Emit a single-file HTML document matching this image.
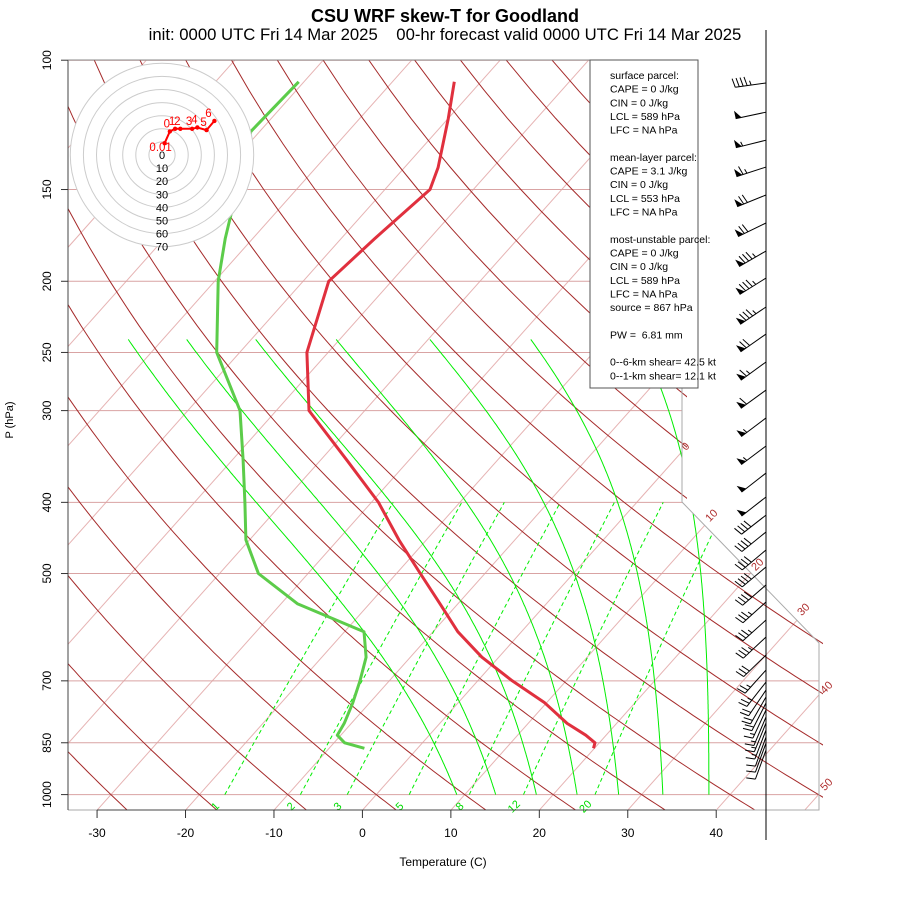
<!DOCTYPE html>
<html><head><meta charset="utf-8"><style>
html,body{margin:0;padding:0;background:#fff;}
svg{display:block;font-family:"Liberation Sans",sans-serif;}
</style></head><body>
<svg id="chart" width="900" height="900" viewBox="0 0 900 900">
<defs>
<clipPath id="plotClip"><polygon points="68,60 682,60 682,502 819,643 819,810 68,810"/></clipPath>
<clipPath id="dryClip"><polygon points="68,60 687,60 687,500 823,640 823,810 68,810"/></clipPath>
</defs>
<rect x="0" y="0" width="900" height="900" fill="#fff"/>
<text x="445" y="22" text-anchor="middle" font-size="18" font-weight="bold">CSU WRF skew-T for Goodland</text>
<text x="445" y="40" text-anchor="middle" font-size="16.7" style="white-space:pre">init: 0000 UTC Fri 14 Mar 2025    00-hr forecast valid 0000 UTC Fri 14 Mar 2025</text>
<g id="grid"></g>
<g id="series"></g>
<g id="axes"></g>
<g id="hodo"></g>
<g id="barbs"></g>
<g id="legend">
<rect x="590" y="60" width="108" height="328" fill="#fff" stroke="#555" stroke-width="1"/>
</g>
<text x="443" y="866" text-anchor="middle" font-size="12">Temperature (C)</text>
<text transform="translate(13,420) rotate(-90)" text-anchor="middle" font-size="11">P (hPa)</text>
</svg>
<script>
// ---- data ----
const tempP = [107,120,140,150,175,200,250,300,350,400,450,500,550,600,650,700,750,800,830,850,865];
const tempT = [-63.0,-60.0,-56.2,-54.9,-56.2,-57.1,-52.4,-46.3,-37.1,-29.2,-23.1,-17.3,-12.0,-7.2,-1.9,3.9,9.8,14.4,17.7,19.5,19.9];
const dewP = [107,125,175,200,250,300,350,400,450,500,550,600,650,700,750,800,830,850,865];
const dewT = [-80.6,-81.0,-73.1,-69.6,-62.6,-54.1,-48.8,-44.3,-40.4,-35.6,-28.1,-17.8,-15.0,-13.3,-11.9,-10.8,-10.4,-8.8,-6.0];
const pressureTicks = [100,150,200,250,300,400,500,700,850,1000];
const tempTicks = [-30,-20,-10,0,10,20,30,40];
const isotherms = [-100,-90,-80,-70,-60,-50,-40,-30,-20,-10,0,10,20,30,40,50];
const dryThetas = [-40,-30,-20,-10,0,10,20,30,40,50,60,70,80,90,100,110,120,130,140,150,160,170,180,190,200];
const moistT1000 = [9.1,13.5,18.1,22.7,27.4,32.4,37.6];
const moistT240 = [-73.9,-67.3,-59.5,-50.4,-39.8,-28.4,-16.1];
const mixRatios = [1,2,3,5,8,12,20];
const hodoU = [2,6,10,14,23,27,34,40];
const hodoV = [9,18,20,20,20,21,19,26];
const hodoLabels = ["0.01","0","1","2","3","4","5","6"];
const barbP = [107.4,117.7,128.5,139.8,152.6,166.6,181.9,198,216.8,236,257.6,281.3,307,335.2,364.9,393.3,416.3,438.9,464.4,489.8,518.2,546.7,578.5,610.2,645.6,676.8,702.6,720.5,736.4,750.4,767,784,798.9,816.7,834.8,850.7,869.5];
const barbDir = [262,258,256,252,248,244,240,238,236,235,234,234,233,233,232,232,232,231,230,230,229,228,228,227,226,222,218,214,210,207,205,203,202,201,200,200,200];
const barbSpd = [45,50,55,65,70,70,85,85,85,70,65,60,55,55,50,50,40,40,40,40,40,35,35,35,30,25,25,20,20,20,15,15,15,15,10,10,10];
const legendLines = ["surface parcel:","CAPE = 0 J/kg","CIN = 0 J/kg","LCL = 589 hPa","LFC = NA hPa","","mean-layer parcel:","CAPE = 3.1 J/kg","CIN = 0 J/kg","LCL = 553 hPa","LFC = NA hPa","","most-unstable parcel:","CAPE = 0 J/kg","CIN = 0 J/kg","LCL = 589 hPa","LFC = NA hPa","source = 867 hPa","","PW =  6.81 mm","","0--6-km shear= 42.5 kt","0--1-km shear= 12.1 kt"];

// ---- scales ----
const NS="http://www.w3.org/2000/svg";
function Yv(p){return 132.182-44.061*Math.log10(p);}
function ypx(p){return -1408.6+734.4*Math.log10(p);}
function xpx(T,p){return 376.3+8.845*T+14.855*Yv(p);}
function mk(tag,attrs,parent){const e=document.createElementNS(NS,tag);for(const k in attrs)e.setAttribute(k,attrs[k]);parent.appendChild(e);return e;}
function ptsStr(a){return a.map(q=>q[0].toFixed(1)+","+q[1].toFixed(1)).join(" ");}
const grid=document.getElementById('grid'), series=document.getElementById('series'), axes=document.getElementById('axes');

// isotherms
const gIso=mk('g',{'clip-path':'url(#plotClip)'},grid);
isotherms.forEach(t=>{
  const l=mk('line',{x1:xpx(t,1050),y1:ypx(1050),x2:xpx(t,100),y2:ypx(100),stroke:'#e6b3b3','stroke-width':1},gIso);
  
  
});
// pressure lines
pressureTicks.forEach(p=>{
  const l=mk('line',{x1:68,y1:ypx(p),x2:830,y2:ypx(p),stroke:'#d9a3a3','stroke-width':1,'clip-path':'url(#plotClip)'},grid);
  
  
});
// dry adiabats
const gDry=mk('g',{'clip-path':'url(#dryClip)'},grid);
dryThetas.forEach(th=>{
  const pts=[];
  for(let p=1050;p>=100;p-=10){const T=(th+273.15)*Math.pow(p/1000,0.286)-273.15;pts.push([xpx(T,p),ypx(p)]);}
  const l=mk('polyline',{points:ptsStr(pts),fill:'none',stroke:'#a52a2a','stroke-width':1},gDry);
  
  
});
// moist adiabats
function es(Tc){return 6.112*Math.exp(17.67*Tc/(Tc+243.5));}
function moistPath(t0,f){
  let T=t0+273.15, p=1000; const pts=[[t0,p]];
  while(p>240){
    const p2=p-2; const Tc=T-273.15; const e=es(Tc); const rs=f*0.622*e/Math.max(p-e,1);
    const g=(287*T+2.5e6*rs)/(1005+2.5e6*2.5e6*rs*0.622/(287*T*T));
    T+=g*Math.log(p2/p); p=p2; pts.push([T-273.15,p]);
  }
  return pts;
}
const gMoist=mk('g',{'clip-path':'url(#plotClip)'},grid);
moistT1000.forEach((t0,i)=>{
  let lo=0, hi=3;
  for(let it=0;it<30;it++){const m=(lo+hi)/2;const pts=moistPath(t0,m);const tt=pts[pts.length-1][0];if(tt>moistT240[i])hi=m;else lo=m;}
  const pts=moistPath(t0,(lo+hi)/2).map(q=>[xpx(q[0],q[1]),ypx(q[1])]);
  const l=mk('polyline',{points:ptsStr(pts),fill:'none',stroke:'#00ee00','stroke-width':1},gMoist);
  
  
});
// mixing ratio lines
mixRatios.forEach(w=>{
  const pts=[];
  for(let p=1000;p>=400;p-=20){const e=w*p/(622+w);const L=Math.log(e/6.112);const T=243.5*L/(17.67-L);pts.push([xpx(T,p),ypx(p)]);}
  const l=mk('polyline',{points:ptsStr(pts),fill:'none',stroke:'#00ee00','stroke-width':1,'stroke-dasharray':'4,3','clip-path':'url(#plotClip)'},grid);
  
  
  const x0=pts[0][0]-7;
  const tx=mk('text',{transform:`translate(${x0.toFixed(1)},809) rotate(-45)`,'font-size':11,fill:'#00dd00','text-anchor':'middle'},grid);
  tx.textContent=w;
  
  
});
// isotherm labels
[[688,449,"0"],[714,518,"10"],[760,567,"20"],[806,612,"30"],[829,690,"40"],[829,787,"50"]].forEach(a=>{
  const tx=mk('text',{transform:`translate(${a[0]},${a[1]}) rotate(-45)`,'font-size':11,fill:'#b03030','text-anchor':'middle'},grid);
  tx.textContent=a[2];
  
  
});
// boundary
const bd=mk('polyline',{points:'682,60 682,502 819,643 819,810 68,810',fill:'none',stroke:'#aaa','stroke-width':1},grid);



// series
const tl=mk('polyline',{points:ptsStr(tempP.map((p,i)=>[xpx(tempT[i],p),ypx(p)])),fill:'none',stroke:'#e0303e','stroke-width':3,'stroke-linejoin':'round'},series);


const dl=mk('polyline',{points:ptsStr(dewP.map((p,i)=>[xpx(dewT[i],p),ypx(p)])),fill:'none',stroke:'#5ccc4a','stroke-width':3,'stroke-linejoin':'round'},series);



// axes
mk('line',{x1:68,y1:60,x2:68,y2:810,stroke:'#444','stroke-width':1},axes);
mk('line',{x1:68,y1:60,x2:682,y2:60,stroke:'#888','stroke-width':1},axes);
pressureTicks.forEach(p=>{
  const y=ypx(p);
  mk('line',{x1:61,y1:y,x2:68,y2:y,stroke:'#333'},axes);
  const tx=mk('text',{transform:`translate(51,${y.toFixed(1)}) rotate(-90)`,'font-size':12,'text-anchor':'middle'},axes);
  tx.textContent=p;
  
  
});
mk('line',{x1:xpx(tempTicks[0],1050),y1:810,x2:xpx(tempTicks[tempTicks.length-1],1050),y2:810,stroke:'#444'},axes);
tempTicks.forEach(t=>{
  const x=xpx(t,1050);
  mk('line',{x1:x,y1:810,x2:x,y2:818,stroke:'#333'},axes);
  const tx=mk('text',{x:x,y:837,'font-size':12,'text-anchor':'middle'},axes);
  tx.textContent=t;
  
  
});

// hodograph
const hodo=document.getElementById('hodo'); const cx=162, cy=155, k=1.31;
mk('circle',{cx:cx,cy:cy,r:92,fill:'#fff',stroke:'none'},hodo);
for(let i=7;i>=1;i--){mk('circle',{cx:cx,cy:cy,r:i*10*k,fill:'none',stroke:'#ccc','stroke-width':1},hodo);}
for(let i=0;i<=7;i++){const tx=mk('text',{x:cx,y:cy+i*10*k+4,'font-size':11,'text-anchor':'middle'},hodo);tx.textContent=i*10;
  
  }
const hp=hodoU.map((u,i)=>[cx+u*k,cy-hodoV[i]*k]);
const hl=mk('polyline',{points:ptsStr(hp),fill:'none',stroke:'#ff0000','stroke-width':2},hodo);


hp.forEach((q,i)=>{
  const c=mk('circle',{cx:q[0],cy:q[1],r:2.2,fill:'#ff0000'},hodo);
  
  
  const dy=i===0?8:-4, dx=i===0?-4:(i===hp.length-1?-6:-3);
  const tx=mk('text',{x:q[0]+dx,y:q[1]+dy,'font-size':11.5,fill:'#ff0000','text-anchor':'middle'},hodo);
  tx.textContent=hodoLabels[i];
  
  
});

// wind barbs
const barbs=document.getElementById('barbs');
mk('line',{x1:766,y1:30,x2:766,y2:840,stroke:'#000','stroke-width':1},barbs);
barbP.forEach((p,i)=>{
  const g=mk('g',{},barbs);
  
  
  const a=barbDir[i]*Math.PI/180; const dx=Math.sin(a), dy=-Math.cos(a);
  const nx=-dy, ny=dx;
  let ux=nx, uy=ny; if(uy>0){ux=-ux;uy=-uy;}
  const x0=766,y0=ypx(p),L=31; const tx=x0+dx*L, ty=y0+dy*L;
  mk('line',{x1:x0,y1:y0,x2:tx,y2:ty,stroke:'#000','stroke-width':1},g);
  let s=Math.round(barbSpd[i]/5)*5, pos=0;
  while(s>=50){const qx=tx-dx*pos,qy=ty-dy*pos;
    mk('polygon',{points:`${qx},${qy} ${qx+ux*8},${qy+uy*8} ${qx-dx*6},${qy-dy*6}`,fill:'#000'},g);pos+=7;s-=50;}
  while(s>=10){const qx=tx-dx*pos,qy=ty-dy*pos;
    mk('line',{x1:qx,y1:qy,x2:qx+ux*9+dx*2,y2:qy+uy*9+dy*2,stroke:'#000','stroke-width':1},g);pos+=4;s-=10;}
  if(s>=5){if(pos===0)pos=4;const qx=tx-dx*pos,qy=ty-dy*pos;
    mk('line',{x1:qx,y1:qy,x2:qx+ux*4.5+dx*1,y2:qy+uy*4.5+dy*1,stroke:'#000','stroke-width':1},g);}
});

// legend
const leg=document.getElementById('legend');
legendLines.forEach((t,i)=>{
  if(!t)return;
  const tx=mk('text',{x:610,y:79+i*13.65,'font-size':10.5,style:'white-space:pre'},leg);
  tx.textContent=t;
  
  
});
</script>
</body></html>
